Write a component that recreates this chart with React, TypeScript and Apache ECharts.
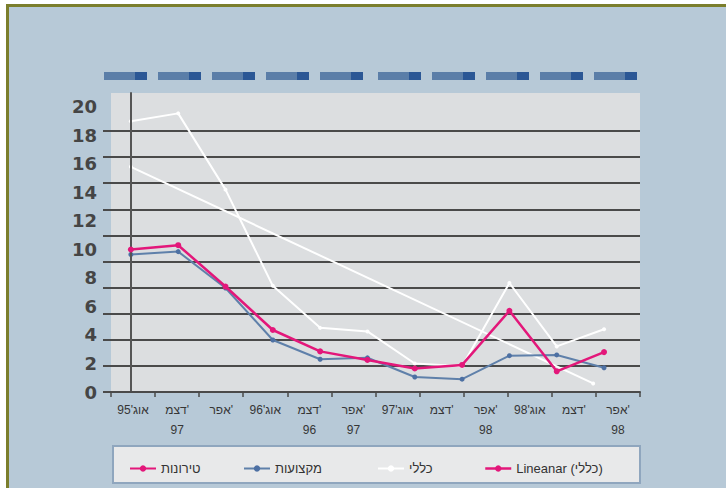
import React, { useEffect, useRef } from "react";
import * as echarts from "echarts";

// ---- data ----
const X_MONTHS = ["אוג'95", "דצמ'", "אפר'", "אוג'96", "דצמ'", "אפר'", "אוג'97", "דצמ'", "אפר'", "אוג'98", "דצמ'", "אפר'"];
const X_YEARS = ["", "97", "", "", "96", "97", "", "", "98", "", "", "98"];
const Y_TICKS_MAX = 20;

const NAME_TIRONUT = "טירונות";
const NAME_MIKZOOT = "מקצועות";
const NAME_KLALI = "כללי";
const NAME_TREND = "Lineanar (כללי)";

const TIRONUT = [10.0, 10.3, 7.4, 4.35, 2.85, 2.25, 1.65, 1.9, 5.7, 1.45, 2.8];
const MIKZOOT = [9.65, 9.85, 7.3, 3.65, 2.3, 2.4, 1.05, 0.9, 2.55, 2.6, 1.7];
const KLALI = [19.0, 19.55, 14.2, 7.45, 4.5, 4.25, 2.0, 1.8, 7.65, 3.2, 4.4];
const TREND_IDX = [0, 9.77];
const TREND = [15.8, 0.6];

// ---- decoration ----
const DASH_X = [104, 158, 212, 266, 320, 378, 432, 486, 540, 594];

const PINK = "#e3177a";
const BLUE = "#5f80aa";
const WHITE = "#ffffff";
const GRIDC = "#4a4a4a";
const HEB_FONT = "'Liberation Sans', 'DejaVu Sans', Arial, sans-serif";

export default function App() {
  const ref = useRef<HTMLDivElement>(null);
  useEffect(() => {
    if (!ref.current) return;
    const chart = echarts.init(ref.current, null, { renderer: "svg" });
    const pairs = (arr: number[]) => arr.map((v, i) => [i, v]);

    const dashes: any[] = [];
    DASH_X.forEach((x) => {
      dashes.push({ type: "rect", z: 10, shape: { x, y: 72, width: 43, height: 8 }, style: { fill: "#5b7ea8" } });
      dashes.push({ type: "rect", z: 11, shape: { x: x + 31, y: 72, width: 12, height: 8 }, style: { fill: "#2b5795" } });
    });

    const legendBase = {
      orient: "horizontal",
      top: 457,
      itemWidth: 26,
      itemHeight: 8,
      textStyle: { fontSize: 13, color: "#333", fontFamily: HEB_FONT },
      selectedMode: false,
    };

    const option: any = {
      animation: false,
      backgroundColor: "#ffffff",
      graphic: [
        {
          type: "rect",
          z: -20,
          shape: { x: 7.5, y: 5.5, width: 740, height: 500 },
          style: { fill: "#b7c9d7", stroke: "#7b7e2c", lineWidth: 3 },
        },
        {
          type: "rect",
          z: -10,
          shape: { x: 113, y: 446, width: 527, height: 37 },
          style: { fill: "#e8e9ea", stroke: "#8fa6be", lineWidth: 2 },
        },
        ...dashes,
      ],
      grid: [
        { left: 111, right: 86, top: 93, bottom: 96, show: true, backgroundColor: "#dcdee0", borderWidth: 0 },
        { left: 111, right: 86, top: 131, bottom: 96, show: false },
      ],
      xAxis: [
        {
          type: "category",
          gridIndex: 0,
          data: X_MONTHS.map((m, i) => (X_YEARS[i] ? m + "\n" + X_YEARS[i] : m)),
          boundaryGap: true,
          axisLine: { lineStyle: { color: GRIDC, width: 2 } },
          axisTick: { show: true, length: 5, lineStyle: { color: GRIDC, width: 1.5 } },
          axisLabel: { interval: 0, fontSize: 12, color: "#363636", fontFamily: HEB_FONT, margin: 8, lineHeight: 20 },
          z: 5,
        },
        { type: "value", gridIndex: 0, min: -0.42, max: 10.76, show: false },
        { type: "value", gridIndex: 1, min: 0, max: 1, show: false },
      ],
      yAxis: [
        {
          type: "value",
          gridIndex: 0,
          min: 0,
          max: 20.98,
          interval: 2,
          axisLine: { show: true, lineStyle: { color: "#555", width: 2 } },
          axisTick: { show: false },
          splitLine: { show: false },
          axisLabel: {
            margin: 14,
            fontSize: 18,
            fontFamily: "'DejaVu Sans', sans-serif",
            fontWeight: "bold",
            color: "#454545",
            formatter: (v: number) => (v <= Y_TICKS_MAX && v % 2 === 0 ? String(v) : ""),
          },
          z: 5,
        },
        {
          type: "value",
          gridIndex: 1,
          min: 0,
          max: 10,
          interval: 1,
          axisLine: { show: false },
          axisLabel: { show: false },
          axisTick: { show: true, length: 8, lineStyle: { color: GRIDC, width: 2 } },
          splitLine: { show: true, lineStyle: { color: GRIDC, width: 2 } },
        },
      ],
      legend: [
        { ...legendBase, left: 124, data: [{ name: NAME_TIRONUT }] },
        { ...legendBase, left: 238, data: [{ name: NAME_MIKZOOT }] },
        { ...legendBase, left: 372, data: [{ name: NAME_KLALI }] },
        {
          ...legendBase,
          left: 479,
          data: [{ name: NAME_TREND, itemStyle: { color: PINK }, lineStyle: { color: PINK, width: 2.5 } }],
        },
      ],
      series: [
        {
          name: NAME_KLALI,
          type: "line",
          xAxisIndex: 1,
          yAxisIndex: 0,
          data: pairs(KLALI),
          symbol: "circle",
          symbolSize: 4,
          itemStyle: { color: WHITE },
          lineStyle: { color: WHITE, width: 2 },
          z: 3,
        },
        {
          name: NAME_TREND,
          type: "line",
          xAxisIndex: 1,
          yAxisIndex: 0,
          data: TREND.map((v, i) => [TREND_IDX[i], v]),
          symbol: "circle",
          symbolSize: 4,
          itemStyle: { color: WHITE },
          lineStyle: { color: WHITE, width: 2 },
          z: 3,
        },
        {
          name: NAME_MIKZOOT,
          type: "line",
          xAxisIndex: 1,
          yAxisIndex: 0,
          data: pairs(MIKZOOT),
          symbol: "circle",
          symbolSize: 5,
          itemStyle: { color: "#4d70a3" },
          lineStyle: { color: BLUE, width: 2 },
          z: 4,
        },
        {
          name: NAME_TIRONUT,
          type: "line",
          xAxisIndex: 1,
          yAxisIndex: 0,
          data: pairs(TIRONUT),
          symbol: "circle",
          symbolSize: 6,
          itemStyle: { color: PINK },
          lineStyle: { color: PINK, width: 2.5 },
          z: 5,
        },
      ],
    };
    chart.setOption(option);
    return () => chart.dispose();
  }, []);
  return (
    <div style={{ position: "fixed", left: 0, top: 0, width: 726, height: 488, background: "#fff" }}>
      <div ref={ref} style={{ width: 726, height: 488 }} />
    </div>
  );
}
